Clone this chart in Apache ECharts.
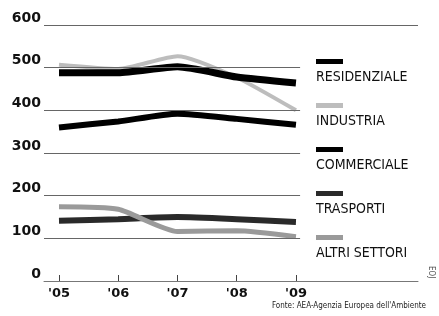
<!DOCTYPE html>
<html>
<head>
<meta charset="utf-8">
<script src="https://cdn.jsdelivr.net/npm/echarts@6/dist/echarts.min.js"></script>
<style>
  html, body { margin: 0; padding: 0; background: #fff; }
  #main { width: 439px; height: 316px; }
</style>
</head>
<body>
<div id="main"></div>
<script>
// anni e valori
var years = [2005, 2006, 2007, 2008, 2009];
var yearLabels = ["'05", "'06", "'07", "'08", "'09"];
var yTicks = [0, 100, 200, 300, 400, 500, 600];

var residenziale = [488, 488, 502, 478, 464];
var industria = [507, 497, 527, 477, 400];
var commerciale = [360, 374, 392, 380, 366];
var trasporti = [141, 145, 150, 145, 138];
var altriSettori = [174, 168, 116, 118, 104];

var names = ["RESIDENZIALE", "INDUSTRIA", "COMMERCIALE", "TRASPORTI", "ALTRI SETTORI"];

var X_MIN = 2004.747, X_MAX = 2011.06, X_GRID_END = 2009.07;
var narrow = "'Liberation Sans Narrow', 'DejaVu Sans Condensed', sans-serif";

function pts(vals) {
  return vals.map(function (v, i) { return [years[i], v]; });
}

// linee orizzontali della griglia (quella a 600 arriva fino in fondo)
var gridLines = yTicks.filter(function (v) { return v > 0; }).map(function (v) {
  return [{ coord: [X_MIN, v] }, { coord: [v === 600 ? X_MAX : X_GRID_END, v] }];
});

var chart = echarts.init(document.getElementById("main"));
var option = {
  animation: false,
  backgroundColor: "#fff",
  grid: { left: 44, top: 25, width: 374, height: 256 },
  title: {
    text: "Fonte: AEA-Agenzia Europea dell'Ambiente",
    right: 8, bottom: 1,
    textStyle: { fontFamily: narrow, fontSize: 8, fontWeight: "normal", color: "#222" }
  },
  legend: [
    {
      // solo i campioni di colore
      orient: "vertical",
      left: 311, top: 54,
      itemWidth: 27, itemHeight: 5,
      itemGap: 39,
      selectedMode: false,
      icon: "rect",
      lineStyle: { width: 5, cap: "butt" },
      data: names,
      formatter: function () { return ""; },
      textStyle: { fontSize: 1, lineHeight: 1 }
    },
    {
      // solo i nomi, sotto ai campioni
      orient: "vertical",
      left: 306, top: 65,
      itemWidth: 0, itemHeight: 14,
      itemGap: 30,
      selectedMode: false,
      icon: "none",
      lineStyle: { width: 0, opacity: 0 },
      data: names,
      textStyle: { fontFamily: narrow, fontSize: 14, color: "#111", lineHeight: 14 }
    }
  ],
  xAxis: {
    type: "value",
    min: X_MIN, max: X_MAX,
    splitLine: { show: false },
    axisLine: { show: true, onZero: false, lineStyle: { color: "#777", width: 1 } },
    axisTick: { show: true, inside: true, length: 6, customValues: years, lineStyle: { color: "#444" } },
    axisLabel: {
      customValues: years,
      formatter: function (v) { return yearLabels[years.indexOf(v)]; },
      fontFamily: "'DejaVu Sans', sans-serif", fontWeight: "bold", fontSize: 13,
      color: "#111", margin: 6
    }
  },
  yAxis: {
    type: "value",
    min: 0, max: 600, interval: 100,
    splitLine: { show: false },
    axisLine: { show: false },
    axisTick: { show: false },
    axisLabel: {
      fontFamily: "'DejaVu Sans', sans-serif", fontWeight: "bold", fontSize: 14,
      color: "#111", margin: 3, verticalAlign: "bottom"
    }
  },
  series: [
    {
      name: "INDUSTRIA", type: "line", smooth: 0.2, showSymbol: false, z: 2,
      data: pts(industria),
      itemStyle: { color: "#bdbdbd" },
      lineStyle: { color: "#bdbdbd", width: 4 },
      markLine: {
        silent: true, symbol: "none", label: { show: false },
        lineStyle: { color: "#666", width: 1, type: "solid" },
        data: gridLines
      }
    },
    {
      name: "RESIDENZIALE", type: "line", smooth: 0.2, showSymbol: false, z: 3,
      data: pts(residenziale),
      itemStyle: { color: "#000" },
      lineStyle: { color: "#000", width: 7 }
    },
    {
      name: "COMMERCIALE", type: "line", smooth: 0.2, showSymbol: false, z: 3,
      data: pts(commerciale),
      itemStyle: { color: "#000" },
      lineStyle: { color: "#000", width: 6 }
    },
    {
      name: "TRASPORTI", type: "line", smooth: 0.2, showSymbol: false, z: 3,
      data: pts(trasporti),
      itemStyle: { color: "#2a2a2a" },
      lineStyle: { color: "#2a2a2a", width: 6 }
    },
    {
      name: "ALTRI SETTORI", type: "line", smooth: 0.2, showSymbol: false, z: 4,
      data: pts(altriSettori),
      itemStyle: { color: "#9a9a9a" },
      lineStyle: { color: "#9a9a9a", width: 5 }
    }
  ],
  graphic: [{
    type: "text", right: 4, top: 266, rotation: -Math.PI / 2,
    style: { text: "EOJ", fontFamily: narrow, fontSize: 8, fill: "#555" }
  }]
};
chart.setOption(option);
</script>
</body>
</html>
